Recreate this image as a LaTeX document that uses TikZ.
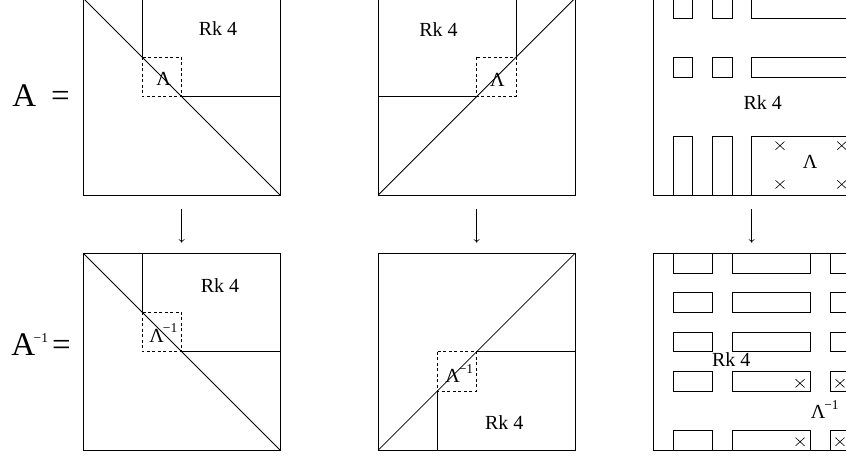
\documentclass[tikz,border=0pt]{standalone}
\usepackage{fontspec}
\setmainfont{Liberation Serif}
\usetikzlibrary{arrows.meta}
\newcommand\supmone[1]{\raisebox{#1}{\fontsize{13.5}{13.5}\selectfont −1}}
\begin{document}
\begin{tikzpicture}[x=19.67pt,y=-19.67pt,
  mat/.style={draw, line width=0.9pt, inner sep=0pt, outer sep=0pt, minimum size=196.7pt, anchor=north west},
  blk/.style={draw, line width=0.9pt},
  dsh/.style={draw, line width=0.8pt, dash pattern=on 3pt off 2.5pt},
  diag/.style={draw, line width=0.8pt},
  lbl/.style={font=\fontsize{20}{22}\selectfont, inner sep=0pt, anchor=base},
  lblw/.style={font=\fontsize{20}{22}\selectfont, inner sep=0pt, anchor=base west},
  big/.style={font=\fontsize{33}{35}\selectfont, inner sep=0pt, anchor=base west},
  arr/.style={line width=0.6pt, -{To[length=3.5pt,width=6pt]}, shorten <=14pt, shorten >=10.6pt},
  xmk/.pic={\draw[line width=0.6pt] (-0.23,-0.21)--(0.23,0.21) (-0.23,0.21)--(0.23,-0.21);}
]
\useasboundingbox (0,0) rectangle (43.0096,23.1825);
\clip (0,0) rectangle (43.0096,23.1825);

% ---------- top left ----------
\begin{scope}[shift={(4.235,-0.086)}]
  \node[mat] (T1) at (0,0) {};
  \draw[blk] (3,3) -- (3,0) -- (10,0) -- (10,5) -- (5,5);
  \draw[dsh] (3,3) rectangle (5,5);
  \draw[diag] (0,0) -- (10,10);
  \node[lbl] (t1rk) at (6.85,1.87) {Rk 4};
  \node[lbl] (t1l) at (4.08,4.41) {Λ};
\end{scope}
\node[big] (Aeq) at (0.62,5.389) {A\hspace{15pt}=};

% ---------- top middle ----------
\begin{scope}[shift={(19.232,-0.086)}]
  \node[mat] (T2) at (0,0) {};
  \draw[blk] (7,3) -- (7,0) -- (0,0) -- (0,5) -- (5,5);
  \draw[dsh] (5,3) rectangle (7,5);
  \draw[diag] (0,10) -- (10,0);
  \node[lbl] (t2rk) at (3.06,1.95) {Rk 4};
  \node[lbl] (t2l) at (6.05,4.49) {Λ};
\end{scope}

% ---------- top right ----------
\begin{scope}[shift={(33.213,-0.086)}]
  \node[mat] (T3) at (0,0) {};
  \foreach \ya/\yb in {0/1,3/4,7/10}
    \foreach \xa/\xb in {1/2,3/4,5/10}
      \draw[blk] (\xa,\ya) rectangle (\xb,\yb);
  \node[lbl] (t3rk) at (5.56,5.64) {Rk 4};
  \node[lbl] (t3l) at (7.97,8.64) {Λ};
  \foreach \px/\py in {6.44/7.49,9.58/7.49,6.44/9.46,9.58/9.46}
    \pic at (\px,\py) {xmk};
\end{scope}

% ---------- bottom left ----------
\begin{scope}[shift={(4.235,12.878)}]
  \node[mat] (B1) at (0,0) {};
  \draw[blk] (3,3) -- (3,0) -- (10,0) -- (10,5) -- (5,5);
  \draw[dsh] (3,3) rectangle (5,5);
  \draw[diag] (0,0) -- (10,10);
  \node[lbl] (b1rk) at (6.95,2.0) {Rk 4};
  \node[lblw] (b1l) at (3.35,4.53) {Λ\kern-1pt\supmone{9.5pt}};
\end{scope}
\node[big] (Ainv) at (0.57,18.048) {A\kern-1.5pt\supmone{13pt}\hspace{4pt}=};

% ---------- bottom middle ----------
\begin{scope}[shift={(19.232,12.878)}]
  \node[mat] (B2) at (0,0) {};
  \draw[blk] (5,5) -- (10,5) -- (10,10) -- (3,10) -- (3,7);
  \draw[dsh] (3,5) rectangle (5,7);
  \draw[diag] (0,10) -- (10,0);
  \node[lbl] (b2rk) at (6.4,8.98) {Rk 4};
  \node[lblw] (b2l) at (3.4,6.59) {Λ\kern-1pt\supmone{9.5pt}};
\end{scope}

% ---------- bottom right ----------
\begin{scope}[shift={(33.213,12.878)}]
  \node[mat] (B3) at (0,0) {};
  \foreach \ya/\yb in {0/1,2/3,4/5,6/7,9/10}
    \foreach \xa/\xb in {1/3,4/8,9/10}
      \draw[blk] (\xa,\ya) rectangle (\xb,\yb);
  \node[lbl] (b3rk) at (3.96,5.77) {Rk 4};
  \node[lblw] (b3l) at (8.0,8.42) {Λ\kern-1pt\supmone{9.5pt}};
  \foreach \px/\py in {7.46/6.61,9.49/6.61,7.46/9.58,9.49/9.58}
    \pic at (\px,\py) {xmk};
\end{scope}

% ---------- arrows ----------
\draw[arr] (T1.south) -- (B1.north);
\draw[arr] (T2.south) -- (B2.north);
\draw[arr] (T3.south) -- (B3.north);
\end{tikzpicture}
\end{document}
